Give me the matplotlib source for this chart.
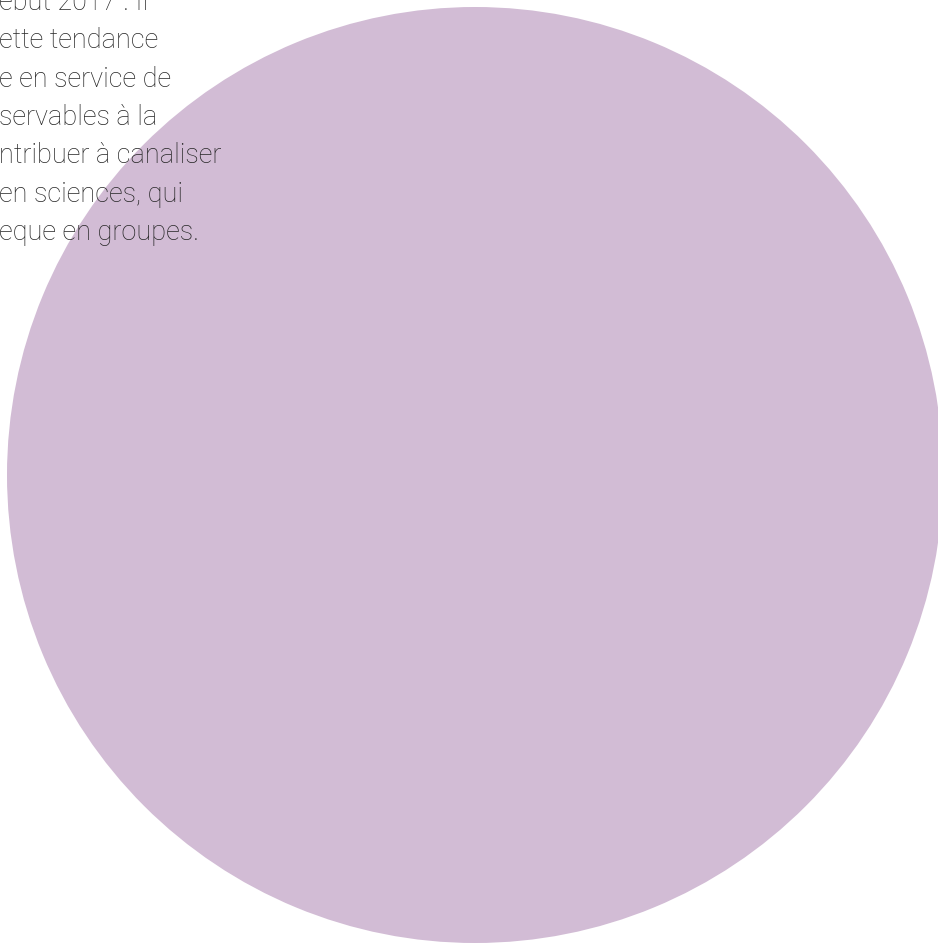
import matplotlib
matplotlib.use("Agg")
import matplotlib.pyplot as plt

# Data: a single full-circle share
shares = [100]
share_colors = ["#D2BCD5"]

text_lines = [
    "ebut 2017 . Il",
    "ette tendance",
    "e en service de",
    "servables à la",
    "ntribuer à canaliser",
    "en sciences, qui",
    "eque en groupes.",
]

W, H = 938, 943
fig = plt.figure(figsize=(W / 100, H / 100), dpi=100)
ax = fig.add_axes([0, 0, 1, 1])

ax.pie(shares, colors=share_colors, center=(475, 475), radius=468,
       startangle=90, frame=True, wedgeprops=dict(linewidth=0))

ax.set_xlim(0, W)
ax.set_ylim(H, 0)
ax.set_aspect("auto")
ax.axis("off")

line_gap = 38.3
y0 = 10
for i, line in enumerate(text_lines):
    ax.text(-1, y0 + i * line_gap, line, ha="left", va="baseline",
            fontsize=19.5, color="#262626", family=["Roboto", "DejaVu Sans"],
            fontweight="light", zorder=5)

fig.savefig("out.png", dpi=100)
